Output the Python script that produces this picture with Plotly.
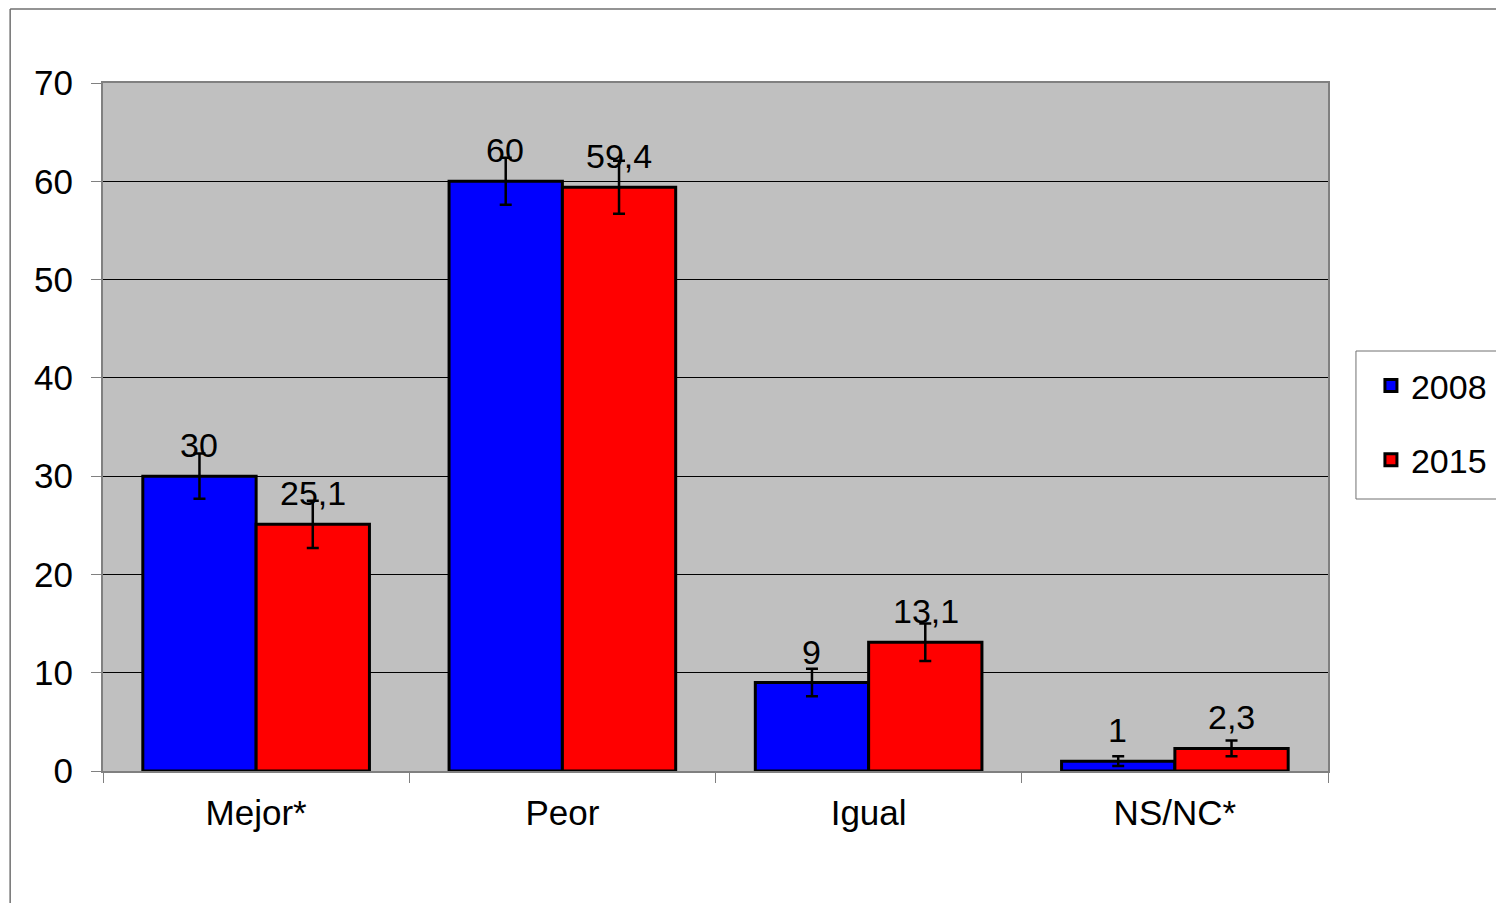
import plotly.graph_objects as go

categories = ["Mejor*", "Peor", "Igual", "NS/NC*"]
series_names = ["2008", "2015"]
values_2008 = [30, 60, 9, 1]
values_2015 = [25.1, 59.4, 13.1, 2.3]
errors_2008 = [2.3, 2.4, 1.4, 0.5]
errors_2015 = [2.4, 2.7, 1.9, 0.8]
labels_2008 = ["30", "60", "9", "1"]
labels_2015 = ["25,1", "59,4", "13,1", "2,3"]
y_ticks = [0, 10, 20, 30, 40, 50, 60, 70]

FONT = "Liberation Sans, Arial, sans-serif"

fig = go.Figure()
for name, vals, errs, col in [
    (series_names[0], values_2008, errors_2008, "#0000FF"),
    (series_names[1], values_2015, errors_2015, "#FF0000"),
]:
    fig.add_trace(go.Bar(
        x=categories, y=vals, name=name, legendgroup=name,
        marker=dict(color=col, line=dict(color="black", width=3)),
        error_y=dict(type="data", array=errs, visible=True, color="black",
                     thickness=2.5, width=6),
    ))

annotations = []
for i, c in enumerate(categories):
    for vals, labs, shift in [(values_2008, labels_2008, -57), (values_2015, labels_2015, 57)]:
        annotations.append(dict(
            x=c, y=vals[i], text=labs[i], showarrow=False, xref="x", yref="y",
            xshift=shift, yshift=31, yanchor="middle", xanchor="center",
            font=dict(family=FONT, size=34, color="black"),
        ))

# page offset (body margin) = 8px; coordinates below are reference pixel coords
OFF = 8
W, H = 1504 - OFF, 903 - OFF
X0, X1, Y0, Y1 = 103, 1330, 83, 771  # plot area in reference coords
L, T = X0 - OFF, Y0 - OFF
R, B = W - (X1 - OFF), H - (Y1 - OFF)
pw, ph = X1 - X0, Y1 - Y0

def px(x):
    return (x - X0) / pw

def py(y):
    return (Y1 - y) / ph

shapes = [
    dict(type="line", xref="paper", yref="paper", x0=px(10), x1=px(10), y0=py(920), y1=py(9),
         line=dict(color="#707070", width=1.5)),
    dict(type="line", xref="paper", yref="paper", x0=px(10), x1=px(1520), y0=py(9), y1=py(9),
         line=dict(color="#707070", width=1.5)),
    dict(type="rect", xref="paper", yref="paper", x0=px(1358), x1=px(1530), y0=py(499), y1=py(351),
         line=dict(color="#707070", width=1), fillcolor="white", layer="below"),
]

fig.update_layout(
    width=W, height=H,
    margin=dict(l=L, r=R, t=T, b=B, pad=0),
    paper_bgcolor="white", plot_bgcolor="#C0C0C0",
    barmode="group", bargap=0.26, bargroupgap=0,
    font=dict(family=FONT, size=34, color="black"),
    showlegend=True,
    legend=dict(x=px(1373), y=py(357), xanchor="left", yanchor="top",
                bgcolor="rgba(0,0,0,0)", borderwidth=0,
                font=dict(family=FONT, size=34), tracegroupgap=27),
    annotations=annotations,
    shapes=shapes,
    xaxis=dict(showgrid=False, showline=True, linecolor="#808080", linewidth=2, mirror=True,
               ticks="outside", tickson="boundaries", ticklen=10, tickcolor="#808080",
               ticklabelstandoff=10,
               tickfont=dict(family=FONT, size=35), zeroline=False),
    yaxis=dict(range=[0, 70], tickvals=y_ticks, showgrid=True, gridcolor="black", gridwidth=1,
               showline=True, linecolor="#808080", linewidth=2, mirror=True,
               ticks="outside", ticklen=10, tickcolor="#808080",
               ticklabelstandoff=11,
               tickfont=dict(family=FONT, size=35), zeroline=False),
)

fig.write_html("out.html")
